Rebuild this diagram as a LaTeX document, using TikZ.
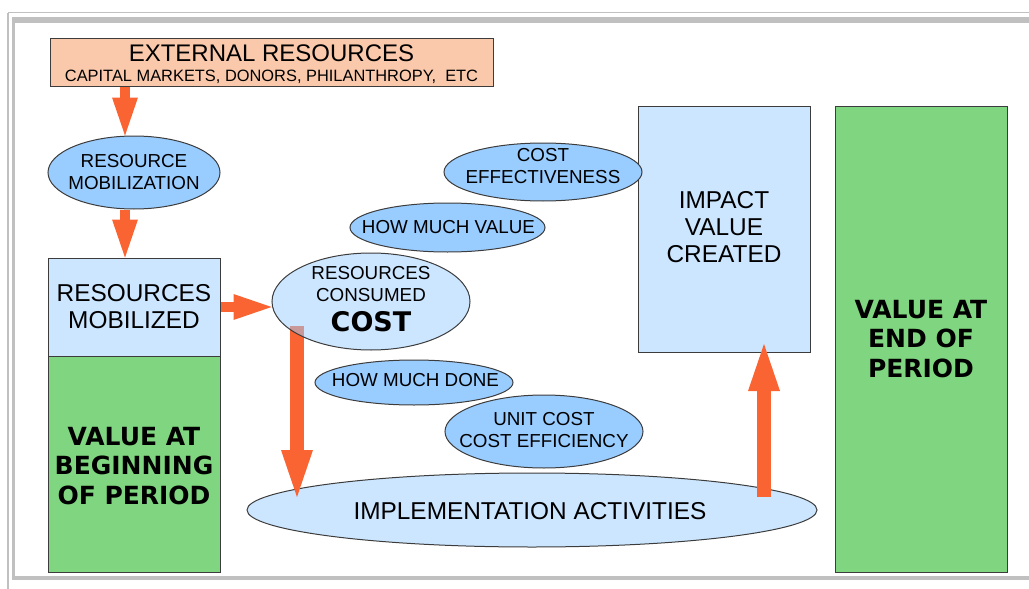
\documentclass[tikz,border=0pt]{standalone}
\usepackage{fontspec}
\setmainfont{Liberation Sans}
\newfontfamily\dvsans{DejaVu Sans}
\usetikzlibrary{shapes.geometric,arrows.meta,calc}
\definecolor{orng}{RGB}{250,100,50}
\definecolor{peach}{RGB}{250,201,171}
\definecolor{medblue}{RGB}{153,204,255}
\definecolor{ltblue}{RGB}{204,230,255}
\definecolor{consfill}{RGB}{153,205,255}
\definecolor{grn}{RGB}{128,214,128}
\definecolor{edgec}{RGB}{60,60,60}
\definecolor{framegray}{RGB}{192,192,192}
\tikzset{
  boxn/.style={rectangle,draw=edgec,line width=1,inner sep=0},
  elln/.style={ellipse,draw=edgec,line width=1,inner sep=0},
  smtxt/.style={font=\fontsize{18.8}{22}\selectfont,align=center,inner sep=0},
  lgtxt/.style={font=\fontsize{24.4}{27}\selectfont,align=center,inner sep=0},
  bgtxt/.style={font=\dvsans\bfseries\fontsize{25}{29.5}\selectfont,align=center,inner sep=0},
  smallarrow/.style={draw=orng,line width=10.5,-{Triangle[width=26pt,length=38pt,line width=0pt,fill=orng]}},
  bigarrow/.style={draw=orng,line width=14,-{Triangle[width=32pt,length=47pt,line width=0pt,fill=orng]}}
}
\begin{document}
\begin{tikzpicture}[x=1pt,y=-1pt]
\useasboundingbox (0,0) rectangle (1029,589);
% frame
\draw[framegray,line width=1.5] (8,12.5) -- (1040,12.5);
\draw[framegray,line width=1.5] (8,12.5) -- (8,600);
\draw[framegray,line width=6] (12,20) -- (1040,20);
\draw[framegray,line width=3] (13.5,17) -- (13.5,580);
\draw[framegray,line width=4] (12,578) -- (1040,578);
% boxes
\node[boxn,fill=peach,minimum width=443,minimum height=48] (ext) at (271.5,62) {};
\node[inner sep=0,anchor=base,font=\fontsize{24}{28}\selectfont] (extt) at (271.5,61) {EXTERNAL RESOURCES};
\node[inner sep=0,anchor=base,font=\fontsize{16.4}{20}\selectfont] (exts) at (271.5,81) {CAPITAL MARKETS, DONORS, PHILANTHROPY,\ \ ETC};
\node[elln,fill=medblue,minimum width=172,minimum height=73] (mob) at (134,172.5) {};
\node[smtxt] (mobt) at (134,172) {RESOURCE\\MOBILIZATION};
\node[boxn,fill=ltblue,minimum width=172,minimum height=98,lgtxt] (mobd) at (134,307) {RESOURCES\\MOBILIZED};
\node[boxn,fill=grn,minimum width=172,minimum height=216] (vbeg) at (134,464) {};
\node[bgtxt] (vbegt) at (134,466) {VALUE AT\\BEGINNING\\OF PERIOD};
\node[boxn,fill=ltblue,minimum width=172,minimum height=246] (imp) at (724,229) {};
\node[lgtxt] (impt) at (724,227) {IMPACT\\VALUE\\CREATED};
\node[boxn,fill=grn,minimum width=172,minimum height=466,bgtxt] (vend) at (921,339) {VALUE AT\\END OF\\PERIOD};
\node[elln,fill=ltblue,minimum width=570,minimum height=74] (impl) at (532,510) {};
\node[lgtxt] (implt) at (530,511) {IMPLEMENTATION ACTIVITIES};
% down arrow under the cost ellipse
\coordinate (d1) at (297,326);
\coordinate (d2) at (297,497);
\draw[bigarrow] (d1) -- (d2);
\node[elln,fill=consfill,fill opacity=0.5,text opacity=1,minimum width=198,minimum height=97] (cons) at (371,301.5) {};
\node[smtxt] (const) at (371,284) {RESOURCES\\CONSUMED};
\node[inner sep=0,font=\dvsans\bfseries\fontsize{27}{30}\selectfont] (cost) at (371,322) {COST};
% small ellipses
\node[elln,fill=medblue,minimum width=198,minimum height=58] (ce) at (543,172) {};
\node[smtxt] (cet) at (543,166) {COST\\EFFECTIVENESS};
\node[elln,fill=medblue,minimum width=195,minimum height=49] (hmv) at (447.5,227.5) {};
\node[smtxt] (hmvt) at (448.5,227) {HOW MUCH VALUE};
\node[elln,fill=medblue,minimum width=198,minimum height=45] (hmd) at (414,382.5) {};
\node[smtxt] (hmdt) at (415.5,380) {HOW MUCH DONE};
\node[elln,fill=medblue,minimum width=198,minimum height=73] (uc) at (544,431.5) {};
\node[smtxt] (uct) at (544,430) {UNIT COST\\COST EFFICIENCY};
% arrows
\coordinate (ax) at (125,0);
\draw[smallarrow] (ax |- ext.south) -- (ax |- mob.north);
\draw[smallarrow] (ax |- mob.south) -- (ax |- mobd.north);
\draw[smallarrow] (mobd.east) -- (mobd.east -| cons.west);
\coordinate (u1) at (764,497);
\coordinate (u2) at (764,344);
\draw[bigarrow] (u1) -- (u2);
\end{tikzpicture}
\end{document}
